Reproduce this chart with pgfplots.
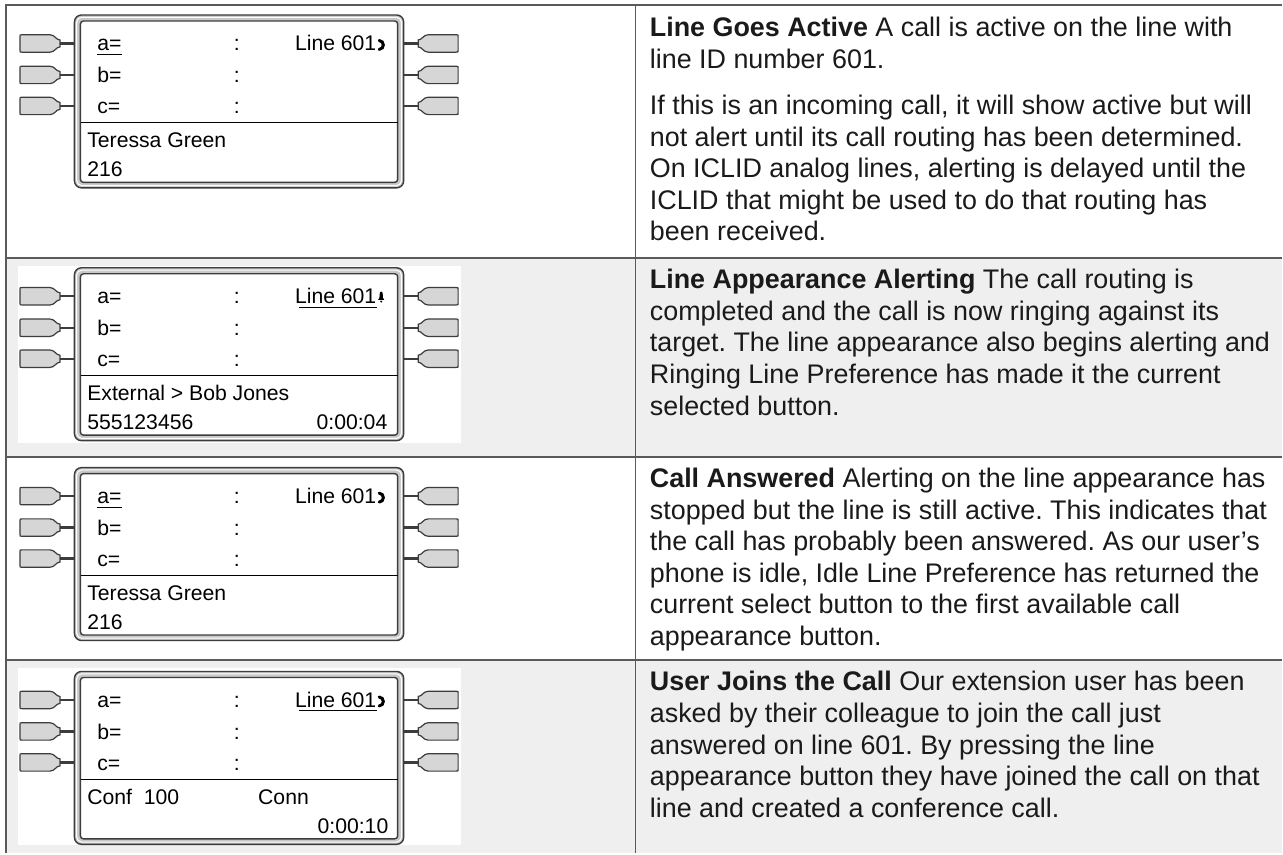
\documentclass[border=0pt]{standalone}
\usepackage{pgfplots}
\pgfplotsset{compat=1.18}
\usepackage{fontspec}
\setmainfont{Liberation Sans}
\frenchspacing
\definecolor{tline}{HTML}{5A5A5A}
\definecolor{rowgray}{HTML}{EFEFEF}
\definecolor{framedark}{HTML}{3C3C3C}
\definecolor{framegray}{HTML}{C8C8C8}
\definecolor{btngray}{HTML}{D6D6D6}
\definecolor{txt}{HTML}{1A1A1A}
\newcommand{\bfont}{\fontsize{13.45}{15.8}\selectfont}
\newcommand{\dfont}{\fontsize{10.6}{12}\selectfont}
\newcommand{\tl}[2]{\node[anchor=base west, inner sep=0pt, font=\bfont, text=txt] at (axis cs:650,#1) {#2};}
\newcommand{\btnpath}{(4pt,-8.7pt) -- (32pt,-8.7pt) .. controls (37pt,-8.7pt) and (38pt,-3.5pt) .. (42pt,-3.5pt) -- (42pt,3.5pt) .. controls (38pt,3.5pt) and (37pt,8.7pt) .. (32pt,8.7pt) -- (4pt,8.7pt) .. controls (2pt,8.7pt) .. (2pt,6.7pt) -- (2pt,-6.7pt) .. controls (2pt,-8.7pt) .. (4pt,-8.7pt) -- cycle}
\newcommand{\btns}[1]{%
  \begin{scope}[shift={(0pt,#1pt)}]
    \draw[framedark, line width=1.2pt] (41pt,0pt) -- (57pt,0pt);
    \draw[fill=btngray, draw=framedark, line width=0.6pt] \btnpath;
  \end{scope}
  \begin{scope}[shift={(442.5pt,#1pt)}, xscale=-1]
    \draw[framedark, line width=1.2pt] (41pt,0pt) -- (57pt,0pt);
    \draw[fill=btngray, draw=framedark, line width=0.6pt] \btnpath;
  \end{scope}}
\newcommand{\phonebase}{%
  \btns{30.5}\btns{62}\btns{93}
  \draw[fill=framegray, draw=framedark, line width=0.7pt, rounded corners=3.5pt] (56.5pt,2pt) rectangle (386pt,175pt);
  \draw[white, line width=0.5pt, rounded corners=2.5pt] (58.8pt,4.3pt) rectangle (383.7pt,172.7pt);
  \draw[fill=white, draw=framedark, line width=0.7pt, rounded corners=1.5pt] (62.5pt,8pt) rectangle (380pt,169.5pt);
  \draw[black, line width=0.5pt] (63pt,110pt) -- (380pt,110pt);
  \node[anchor=base west, inner sep=0pt, font=\dfont] at (79pt,38pt) {a=};
  \node[anchor=base west, inner sep=0pt, font=\dfont] at (79pt,70pt) {b=};
  \node[anchor=base west, inner sep=0pt, font=\dfont] at (79pt,101pt) {c=};
  \node[anchor=base, inner sep=0pt, font=\dfont] at (219pt,38pt) {:};
  \node[anchor=base, inner sep=0pt, font=\dfont] at (219pt,70pt) {:};
  \node[anchor=base, inner sep=0pt, font=\dfont] at (219pt,101pt) {:};
  \node[anchor=base east, inner sep=0pt, font=\dfont] at (359pt,38pt) {Line 601};}
\newcommand{\activesym}{\draw[black, line width=1.5pt, line cap=round] (361.5pt,27.5pt) .. controls (367pt,28pt) and (367pt,36pt) .. (361.5pt,36.5pt);}
\newcommand{\bellsym}{\fill[black] (360.5pt,34pt) -- (366.5pt,34pt) -- (365.3pt,32pt) -- (365pt,28pt) .. controls (365pt,25pt) and (362pt,25pt) .. (362pt,28pt) -- (361.7pt,32pt) -- cycle; \fill[black] (363.5pt,35.8pt) circle (1.1pt);}
\newcommand{\auline}{\draw[black, line width=0.5pt] (79pt,41.5pt) -- (104pt,41.5pt);}
\newcommand{\luline}{\draw[black, line width=0.5pt] (281pt,41.5pt) -- (359pt,41.5pt);}
\begin{document}
\begin{tikzpicture}
\begin{axis}[scale only axis, width=641.5pt, height=427pt,
  xmin=0, xmax=1283, ymin=0, ymax=854, y dir=reverse,
  axis lines=none, clip=false]
\addplot[draw=none, mark=none] coordinates {(0,0) (1283,854)};
\path (axis cs:0,0) rectangle (axis cs:1283,854);
% row shading
\fill[rowgray] (axis cs:6,258) rectangle (axis cs:1283,457);
\fill[rowgray] (axis cs:6,661) rectangle (axis cs:1283,854);
\fill[white] (axis cs:18,266) rectangle (axis cs:461,443);
\fill[white] (axis cs:18,669) rectangle (axis cs:461,846);
% table rules
\draw[tline, line width=1pt] (axis cs:5,5.5) -- (axis cs:1283,5.5);
\draw[tline, line width=1pt] (axis cs:5,258) -- (axis cs:1283,258);
\draw[tline, line width=1pt] (axis cs:5,457) -- (axis cs:1283,457);
\draw[tline, line width=1pt] (axis cs:5,661) -- (axis cs:1283,661);
\draw[tline, line width=0.8pt] (axis cs:6,5) -- (axis cs:6,854);
\draw[tline, line width=0.8pt] (axis cs:636,5) -- (axis cs:636,854);
% phones
\begin{scope}[shift={(axis cs:18,13)}, xscale=0.5, yscale=-0.5]
  \phonebase \activesym \auline
  \node[anchor=base west, inner sep=0pt, font=\dfont] at (69pt,135pt) {Teressa Green};
  \node[anchor=base west, inner sep=0pt, font=\dfont] at (69pt,164pt) {216};
\end{scope}
\begin{scope}[shift={(axis cs:18,266)}, xscale=0.5, yscale=-0.5]
  \phonebase \bellsym \luline
  \node[anchor=base west, inner sep=0pt, font=\dfont] at (69pt,135pt) {External > Bob Jones};
  \node[anchor=base west, inner sep=0pt, font=\dfont] at (69pt,164pt) {555123456};
  \node[anchor=base east, inner sep=0pt, font=\dfont] at (370pt,164pt) {0:00:04};
\end{scope}
\begin{scope}[shift={(axis cs:18,466)}, xscale=0.5, yscale=-0.5]
  \phonebase \activesym \auline
  \node[anchor=base west, inner sep=0pt, font=\dfont] at (69pt,135pt) {Teressa Green};
  \node[anchor=base west, inner sep=0pt, font=\dfont] at (69pt,164pt) {216};
\end{scope}
\begin{scope}[shift={(axis cs:18,670)}, xscale=0.5, yscale=-0.5]
  \phonebase \activesym \luline
  \node[anchor=base west, inner sep=0pt, font=\dfont] at (69pt,135pt) {Conf\ \ 100};
  \node[anchor=base west, inner sep=0pt, font=\dfont] at (240pt,135pt) {Conn};
  \node[anchor=base east, inner sep=0pt, font=\dfont] at (371pt,164pt) {0:00:10};
\end{scope}
% right column text
\tl{37}{\textbf{Line Goes Active} A call is active on the line with}
\tl{68.6}{line ID number 601.}
\tl{114.6}{If this is an incoming call, it will show active but will}
\tl{146.2}{not alert until its call routing has been determined.}
\tl{177.8}{On ICLID analog lines, alerting is delayed until the}
\tl{209.4}{ICLID that might be used to do that routing has}
\tl{241}{been received.}
\tl{289}{\textbf{Line Appearance Alerting} The call routing is}
\tl{320.6}{completed and the call is now ringing against its}
\tl{352.2}{target. The line appearance also begins alerting and}
\tl{383.8}{Ringing Line Preference has made it the current}
\tl{415.4}{selected button.}
\tl{488}{\textbf{Call Answered} Alerting on the line appearance has}
\tl{519.6}{stopped but the line is still active. This indicates that}
\tl{551.2}{the call has probably been answered. As our user's}
\tl{582.8}{phone is idle, Idle Line Preference has returned the}
\tl{614.4}{current select button to the first available call}
\tl{646}{appearance button.}
\tl{691.5}{\textbf{User Joins the Call} Our extension user has been}
\tl{723.1}{asked by their colleague to join the call just}
\tl{754.7}{answered on line 601. By pressing the line}
\tl{786.3}{appearance button they have joined the call on that}
\tl{817.9}{line and created a conference call.}
\end{axis}
\end{tikzpicture}
\end{document}
